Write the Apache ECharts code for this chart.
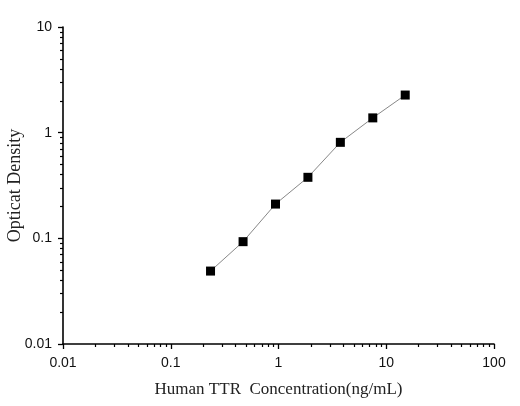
<!DOCTYPE html>
<html>
<head>
<meta charset="utf-8">
<script src="https://cdn.jsdelivr.net/npm/echarts@6/dist/echarts.min.js"></script>
<style>
  html, body { margin: 0; padding: 0; background: #fff; }
  #chart { width: 520px; height: 406px; }
</style>
</head>
<body>
<div id="chart"></div>
<script>
// standard curve
const concentration = [0.234, 0.469, 0.938, 1.875, 3.75, 7.5, 15]
const opticalDensity = [0.049, 0.093, 0.211, 0.378, 0.81, 1.38, 2.27]

const xName = "Human TTR  Concentration(ng/mL)"
const yName = "Opticat Density"

let points = concentration.map((c, i) => [c, opticalDensity[i]])

let chartDom = document.getElementById('chart')
let myChart = echarts.init(chartDom, null, {renderer: 'canvas'})

const axisCommon = {
    type: 'log',
    logBase: 10,
    nameLocation: 'middle',
    nameMoveOverlap: false,
    axisLine: {show: true, lineStyle: {color: '#000', width: 1.6}},
    axisTick: {show: true, inside: false, length: 5, lineStyle: {color: '#000', width: 1.3}},
    minorTick: {show: true, splitNumber: 9, length: 3, lineStyle: {color: '#000', width: 1.2}},
    splitLine: {show: false},
    axisLabel: {
        fontFamily: 'Liberation Sans', fontSize: 14, color: '#111',
        formatter: v => String(v)
    }
}

let option = {
    backgroundColor: '#fff',
    animation: false,
    // keep the plot box where it is, don't let labels push it
    grid: {left: 63, right: 26, top: 27, bottom: 62, outerBoundsMode: 'none', containLabel: false},
    xAxis: Object.assign({}, axisCommon, {
        min: 0.01, max: 100,
        name: xName, nameGap: 37,
        nameTextStyle: {fontFamily: 'Liberation Serif', fontSize: 17, color: '#222'},
        axisLabel: Object.assign({}, axisCommon.axisLabel, {margin: 12})
    }),
    yAxis: Object.assign({}, axisCommon, {
        min: 0.01, max: 10,
        name: yName, nameGap: 39,
        nameTextStyle: {fontFamily: 'Liberation Serif', fontSize: 18, color: '#222'},
        axisLabel: Object.assign({}, axisCommon.axisLabel, {margin: 11})
    }),
    series: [{
        type: 'line',
        data: points,
        symbol: 'rect',
        symbolSize: 9,
        itemStyle: {color: '#000'},
        lineStyle: {color: '#888', width: 1}
    }]
}
myChart.setOption(option)
</script>
</body>
</html>
